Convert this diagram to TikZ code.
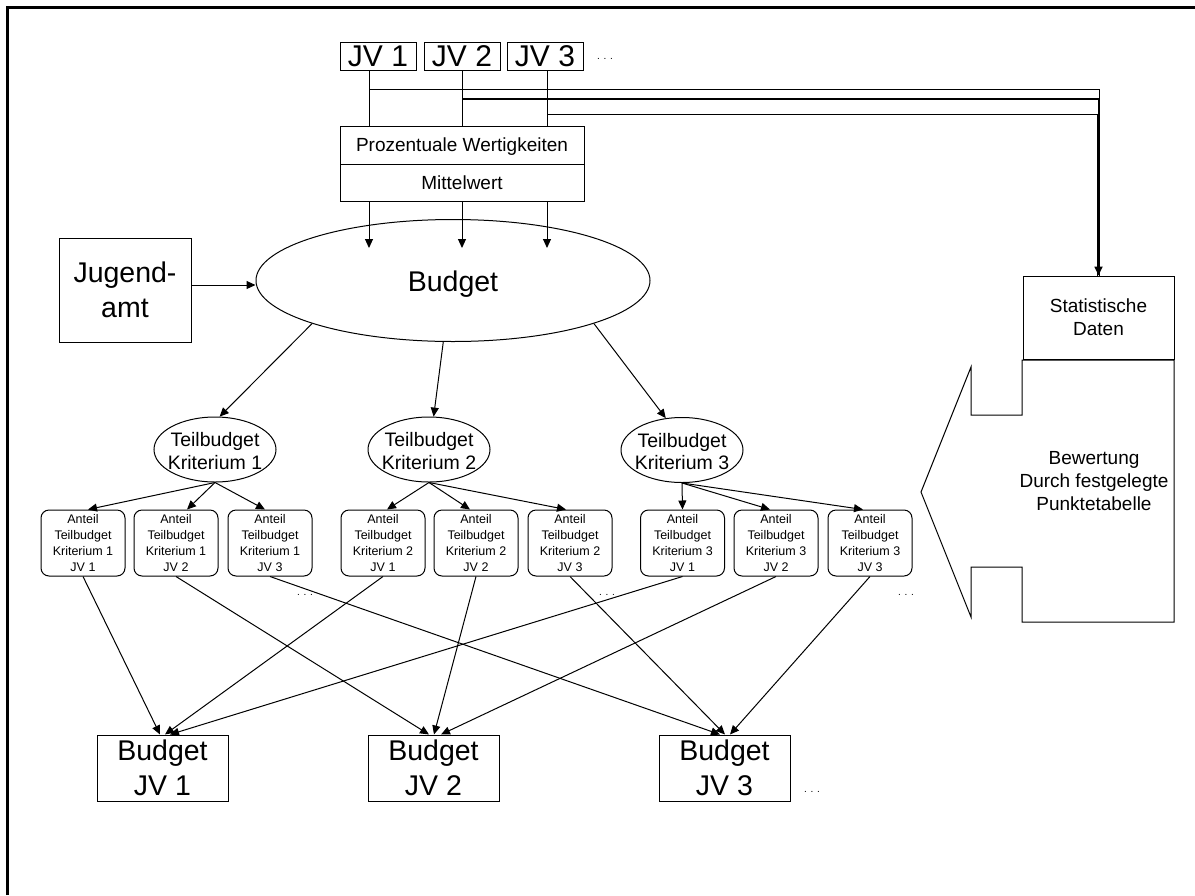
\documentclass[tikz,border=0pt]{standalone}
\usepackage{fontspec}
\setmainfont{Liberation Sans}
\usetikzlibrary{arrows.meta,shapes.geometric}
\begin{document}
\begin{tikzpicture}[x=1pt,y=-1pt,
  every node/.style={inner sep=0pt},
  ln/.style={line width=1pt},
  arr/.style={line width=1pt,-{Triangle[length=9pt,width=8pt]}},
  box/.style={draw,line width=1pt,rectangle},
  jvfont/.style={font=\fontsize{30}{34}\selectfont},
  bigfont/.style={font=\fontsize{28.5}{34.5}\selectfont},
  midfont/.style={font=\fontsize{19}{23}\selectfont},
  tbfont/.style={font=\fontsize{19.5}{22.5}\selectfont},
  smallfont/.style={font=\fontsize{12.5}{16}\selectfont},
  dotsfont/.style={font=\fontsize{10}{12}\selectfont},
  jvbox/.style={box,jvfont,minimum width=76pt,minimum height=28pt},
  anteil/.style={draw,line width=1pt,rounded corners=8pt,minimum width=84pt,minimum height=66pt,align=center,smallfont},
  bjv/.style={box,bigfont,align=center,minimum width=131pt,minimum height=66pt},
  tbell/.style={draw,line width=1pt,ellipse,minimum width=122pt,minimum height=65pt},
]
\useasboundingbox (0,0) rectangle (1195,895);
% frame (top and left edges)
\draw[line width=2.7pt] (7.3,895) -- (7.3,7.3) -- (1195,7.3);

% top JV boxes
\node[jvbox] (jv1) at (378,56) {JV 1};
\node[jvbox] (jv2) at (462,56) {JV 2};
\node[jvbox] (jv3) at (545,56) {JV 3};
\node[dotsfont] (dtop) at (605,59) {. . .};

% Prozentuale / Mittelwert
\node[box,midfont,minimum width=244pt,minimum height=38pt,text depth=0pt] (pw) at (462,145) {Prozentuale Wertigkeiten};
\node[box,midfont,minimum width=244pt,minimum height=37pt] (mw) at (462,182.5) {Mittelwert};

% column coordinates
\coordinate (c1) at (369,0);
\coordinate (c2) at (462,0);
\coordinate (c3) at (547,0);
\coordinate (tipy) at (0,248);

\draw[ln] (c1 |- jv1.south) -- (c1 |- pw.north);
\draw[ln] (c2 |- jv2.south) -- (c2 |- pw.north);
\draw[ln] (c3 |- jv3.south) -- (c3 |- pw.north);

% Budget
\node[draw,line width=1pt,ellipse,minimum width=394pt,minimum height=122pt] (budget) at (453,280.5) {};
\node[bigfont,anchor=base] (budgettext) at (453,291) {Budget};

\draw[arr] (c1 |- mw.south) -- (c1 |- tipy);
\draw[arr] (c2 |- mw.south) -- (c2 |- tipy);
\draw[arr] (c3 |- mw.south) -- (c3 |- tipy);

% Statistische Daten
\node[box,midfont,align=center,minimum width=151pt,minimum height=83pt] (stat) at (1098.5,317.5) {Statistische\\Daten};

\coordinate (h1) at (1099.5,89);
\coordinate (h2) at (1098.5,99);
\coordinate (h3) at (1097.5,114);
\draw[ln] (c1 |- h1) -- (h1) -- (h1 |- stat.north);
\draw[ln] (c3 |- h3) -- (h3) -- (h3 |- stat.north);
\draw[line width=1.7pt,-{Triangle[length=9pt,width=8pt]}] (c2 |- h2) -- (h2) -- (h2 |- stat.north);

% Bewertung arrow shape
\draw[ln] (1022,360) -- (1174,360) -- (1174,622) -- (1022,622) -- (1022,567) -- (971,567) -- (971,617) -- (921,492) -- (971,367) -- (971,415) -- (1022,415) -- cycle;
\node[midfont,align=center] (bew) at (1094,481) {Bewertung\\Durch festgelegte\\Punktetabelle};

% Jugendamt
\node[box,bigfont,align=center,minimum width=132pt,minimum height=104pt] (jug) at (125,290) {Jugend-\\amt};
\coordinate (ja) at ([yshift=5pt]jug.east);
\draw[arr] (ja) -- (ja -| budget.west);

% Teilbudgets
\node[tbell] (tb1) at (215,449.5) {};
\node[tbell] (tb2) at (429,449.5) {};
\node[tbell] (tb3) at (682,450) {};
\node[tbfont,align=center] (tb1t) at (215,451) {Teilbudget\\Kriterium 1};
\node[tbfont,align=center] (tb2t) at (429,451) {Teilbudget\\Kriterium 2};
\node[tbfont,align=center] (tb3t) at (682,451.5) {Teilbudget\\Kriterium 3};

\draw[arr] (budget.197) -- (tb1.82);
\draw[arr] (budget.261) -- (tb2.82);
\draw[arr] (budget.343) -- (tb3.117);

% Anteil boxes
\node[anteil] (a11) at (83,543) {Anteil\\Teilbudget\\Kriterium 1\\JV 1};
\node[anteil] (a12) at (176,543) {Anteil\\Teilbudget\\Kriterium 1\\JV 2};
\node[anteil] (a13) at (270,543) {Anteil\\Teilbudget\\Kriterium 1\\JV 3};
\node[anteil] (a21) at (383,543) {Anteil\\Teilbudget\\Kriterium 2\\JV 1};
\node[anteil] (a22) at (476,543) {Anteil\\Teilbudget\\Kriterium 2\\JV 2};
\node[anteil] (a23) at (570,543) {Anteil\\Teilbudget\\Kriterium 2\\JV 3};
\node[anteil] (a31) at (682.5,543) {Anteil\\Teilbudget\\Kriterium 3\\JV 1};
\node[anteil] (a32) at (776,543) {Anteil\\Teilbudget\\Kriterium 3\\JV 2};
\node[anteil] (a33) at (870,543) {Anteil\\Teilbudget\\Kriterium 3\\JV 3};

\draw[arr] (tb1.south) -- ([xshift=5pt]a11.north);
\draw[arr] (tb1.south) -- ([xshift=11pt]a12.north);
\draw[arr] (tb1.south) -- ([xshift=-5pt]a13.north);
\draw[arr] (tb2.south) -- ([xshift=4pt]a21.north);
\draw[arr] (tb2.south) -- ([xshift=-6pt]a22.north);
\draw[arr] (tb2.south) -- ([xshift=-4pt]a23.north);
\draw[arr] (tb3.south) -- (a31.north);
\draw[arr] (tb3.south) -- ([xshift=-6pt]a32.north);
\draw[arr] (tb3.south) -- ([xshift=-7pt]a33.north);

\node[dotsfont] (d1) at (305,595) {. . .};
\node[dotsfont] (d2) at (607,595) {. . .};
\node[dotsfont] (d3) at (906,595) {. . .};

% Budget JV boxes
\node[bjv] (b1) at (162.5,768) {Budget\\JV 1};
\node[bjv] (b2) at (433.5,768) {Budget\\JV 2};
\node[bjv] (b3) at (724.5,768) {Budget\\JV 3};
\node[dotsfont] (d4) at (812,792) {. . .};

\draw[arr] (a11.south) -- ([xshift=-2.5pt]b1.north);
\draw[arr] (a21.south) -- ([xshift=2.5pt]b1.north);
\draw[arr] (a31.south) -- ([xshift=7.5pt]b1.north);
\draw[arr] (a12.south) -- ([xshift=-4.5pt]b2.north);
\draw[arr] (a22.south) -- ([xshift=0.5pt]b2.north);
\draw[arr] (a32.south) -- ([xshift=7.5pt]b2.north);
\draw[arr] (a13.south) -- ([xshift=-4.5pt]b3.north);
\draw[arr] (a23.south) -- ([xshift=0.5pt]b3.north);
\draw[arr] (a33.south) -- ([xshift=5.5pt]b3.north);
\end{tikzpicture}
\end{document}
